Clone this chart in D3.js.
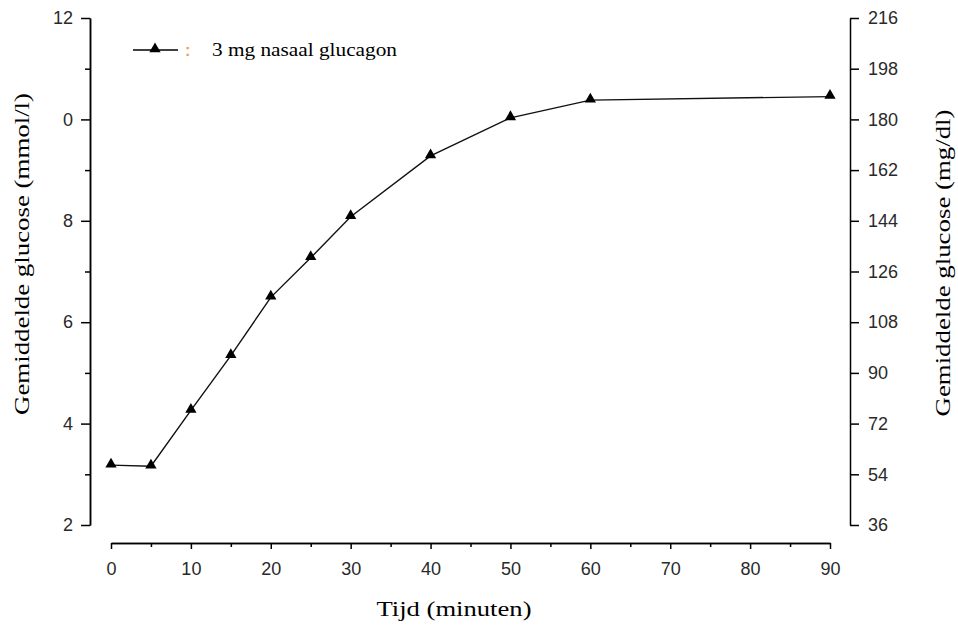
<!DOCTYPE html>
<html>
<head>
<meta charset="utf-8">
<script src="https://cdn.jsdelivr.net/npm/d3@7"></script>
<style>
  body { margin: 0; background: #fff; }
</style>
</head>
<body>
<div id="chart"></div>
<script>
// data
const minutes = [0, 5, 10, 15, 20, 25, 30, 40, 50, 60, 90];
const glucose = [3.18, 3.16, 4.26, 5.34, 6.49, 7.27, 8.08, 9.28, 10.03, 10.38, 10.45];

const xTicks = [0, 10, 20, 30, 40, 50, 60, 70, 80, 90];
const xMinor = [5, 15, 25, 35, 45, 55, 65, 75, 85];
const leftTicks = [2, 4, 6, 8, 10, 12];
const leftTickLabels = ["2", "4", "6", "8", "0", "12"];
const leftMinor = [3, 5, 7, 9, 11];
const rightTicks = [36, 54, 72, 90, 108, 126, 144, 162, 180, 198, 216];
const seriesName = "3 mg nasaal glucagon";

const W = 958, H = 628;

const svg = d3.select("#chart")
    .append("svg")
    .attr("width", W)
    .attr("height", H);

const x = d3.scaleLinear().domain([0, 90]).range([111, 830]);
const yL = d3.scaleLinear().domain([2, 12]).range([525, 18]);
const yR = d3.scaleLinear().domain([36, 216]).range([525, 18]);

const tickFont = "Liberation Sans, Arial, sans-serif";
const serif = "Liberation Serif, Times New Roman, serif";

function styleAxis(g) {
    g.select(".domain").attr("stroke", "#000").attr("stroke-width", 1.5);
    g.selectAll(".tick line").attr("stroke", "#000").attr("stroke-width", 1.5);
    g.selectAll(".tick text")
        .attr("fill", "#2a2a2a")
        .style("font-family", tickFont)
        .style("font-size", "18px");
}

// x axis (detached, below plot)
svg.append("g")
    .attr("transform", "translate(0,543)")
    .call(d3.axisBottom(x).tickValues(xMinor).tickSize(4).tickSizeOuter(0).tickFormat(""))
    .call(styleAxis);
svg.append("g")
    .attr("transform", "translate(0,543)")
    .call(d3.axisBottom(x).tickValues(xTicks).tickSize(6).tickSizeOuter(0).tickPadding(13))
    .call(styleAxis);

// left axis
svg.append("g")
    .attr("transform", "translate(90,0)")
    .call(d3.axisLeft(yL).tickValues(leftMinor).tickSize(5).tickSizeOuter(0).tickFormat(""))
    .call(styleAxis);
svg.append("g")
    .attr("transform", "translate(90,0)")
    .call(d3.axisLeft(yL).tickValues(leftTicks).tickSize(9).tickSizeOuter(0).tickPadding(8)
        .tickFormat((d, i) => leftTickLabels[i]))
    .call(styleAxis);

// right axis
svg.append("g")
    .attr("transform", "translate(850,0)")
    .call(d3.axisRight(yR).tickValues(rightTicks).tickSize(9).tickSizeOuter(0).tickPadding(9))
    .call(styleAxis);

// line
const line = d3.line()
    .x((d, i) => x(minutes[i]))
    .y(d => yL(d));

svg.append("path")
    .datum(glucose)
    .attr("fill", "none")
    .attr("stroke", "#111")
    .attr("stroke-width", 1.4)
    .attr("d", line);

const tri = d3.symbol().type(d3.symbolTriangle).size(55);

svg.append("g")
    .selectAll("path")
    .data(glucose)
    .join("path")
    .attr("d", tri)
    .attr("transform", (d, i) => `translate(${x(minutes[i])},${yL(d) - 1})`)
    .attr("fill", "#000");

// legend
svg.append("line")
    .attr("x1", 133).attr("x2", 178)
    .attr("y1", 50).attr("y2", 50)
    .attr("stroke", "#000").attr("stroke-width", 1.5);
svg.append("path")
    .attr("d", tri)
    .attr("transform", "translate(155,49)")
    .attr("fill", "#000");
svg.append("text")
    .attr("x", 185).attr("y", 56)
    .attr("fill", "#f0a050")
    .style("font-family", tickFont)
    .style("font-size", "16px")
    .style("font-weight", "bold")
    .text(":");
svg.append("text")
    .attr("x", 212).attr("y", 56)
    .attr("fill", "#000")
    .attr("textLength", 185)
    .attr("lengthAdjust", "spacingAndGlyphs")
    .style("font-family", serif)
    .style("font-size", "18px")
    .text(seriesName);

// axis titles
svg.append("text")
    .attr("transform", "translate(29,254) rotate(-90)")
    .attr("text-anchor", "middle")
    .attr("textLength", 322)
    .attr("lengthAdjust", "spacingAndGlyphs")
    .style("font-family", serif)
    .style("font-size", "21px")
    .text("Gemiddelde glucose (mmol/l)");

svg.append("text")
    .attr("transform", "translate(950,263) rotate(-90)")
    .attr("text-anchor", "middle")
    .attr("textLength", 307)
    .attr("lengthAdjust", "spacingAndGlyphs")
    .style("font-family", serif)
    .style("font-size", "21px")
    .text("Gemiddelde glucose (mg/dl)");

svg.append("text")
    .attr("x", 454).attr("y", 616)
    .attr("text-anchor", "middle")
    .attr("textLength", 155)
    .attr("lengthAdjust", "spacingAndGlyphs")
    .style("font-family", serif)
    .style("font-size", "21px")
    .text("Tijd (minuten)");
</script>
</body>
</html>
